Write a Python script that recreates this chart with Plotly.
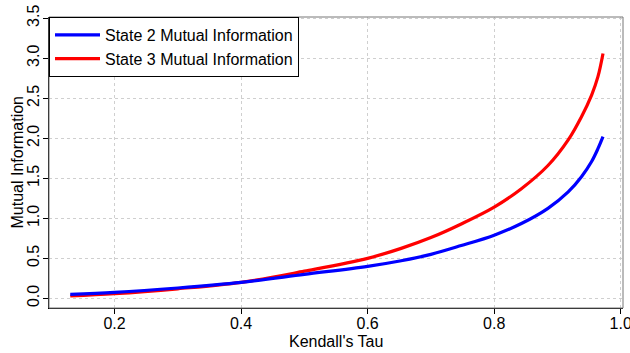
import plotly.graph_objects as go

# Data
tau = [0.13, 0.20, 0.30, 0.40, 0.50, 0.60, 0.653, 0.70, 0.748, 0.80, 0.843, 0.885, 0.917, 0.938, 0.954, 0.964, 0.972]
state3_mi = [0.03, 0.058, 0.12, 0.20, 0.34, 0.50, 0.625, 0.76, 0.93, 1.14, 1.37, 1.66, 1.98, 2.27, 2.54, 2.77, 3.06]
state2_mi = [0.05, 0.075, 0.13, 0.20, 0.30, 0.40, 0.47, 0.55, 0.66, 0.79, 0.935, 1.125, 1.33, 1.52, 1.71, 1.87, 2.02]

x_ticks = [0.2, 0.4, 0.6, 0.8, 1.0]
y_ticks = [0.0, 0.5, 1.0, 1.5, 2.0, 2.5, 3.0, 3.5]

FONT = "Liberation Sans, Arial, sans-serif"

fig = go.Figure()
fig.add_trace(go.Scatter(
    x=tau, y=state3_mi, mode="lines", name="State 3 Mutual Information",
    line=dict(color="#FF0000", width=3.2, shape="spline", smoothing=1.0),
    legendrank=2,
))
fig.add_trace(go.Scatter(
    x=tau, y=state2_mi, mode="lines", name="State 2 Mutual Information",
    line=dict(color="#0000FF", width=3.2, shape="spline", smoothing=1.0),
    legendrank=1,
))

grid = dict(showgrid=True, gridcolor="#cfcfcf", gridwidth=1, griddash="dot", zeroline=False)

fig.update_layout(
    width=630, height=353,
    margin=dict(l=49, r=7, t=17, b=45, autoexpand=False),
    paper_bgcolor="white", plot_bgcolor="white",
    font=dict(family=FONT, size=16, color="black"),
    showlegend=True,
    legend=dict(
        x=0, y=1, xanchor="left", yanchor="top",
        bgcolor="white", bordercolor="black", borderwidth=1,
        font=dict(family=FONT, size=16, color="black"),
        traceorder="normal", itemwidth=45,
    ),
    xaxis=dict(
        range=[0.0964, 1.0036], tickvals=x_ticks, ticktext=[f"{v:.1f}" for v in x_ticks],
        ticks="outside", ticklen=5, tickcolor="black", tickwidth=1,
        ticklabeloverflow="allow", ticklabelstandoff=-4,
        showline=True, linecolor="black", linewidth=1, mirror=False,
        automargin=False,
        **grid,
    ),
    yaxis=dict(
        range=[-0.12, 3.515], tickvals=y_ticks, ticktext=[f"{v:.1f}" for v in y_ticks],
        tickangle=-90,
        ticks="outside", ticklen=5, tickcolor="black", tickwidth=1,
        ticklabeloverflow="allow", ticklabelstandoff=-2,
        showline=True, linecolor="black", linewidth=1, mirror=False,
        automargin=False,
        **grid,
    ),
    annotations=[
        dict(text="Kendall's Tau", xref="paper", yref="paper", x=0.5, y=0,
             yshift=-33, xanchor="center", yanchor="middle", showarrow=False,
             font=dict(family=FONT, size=16, color="black")),
        dict(text="Mutual Information", xref="paper", yref="paper", x=0, y=0.5,
             xshift=-32, xanchor="center", yanchor="middle", textangle=-90, showarrow=False,
             font=dict(family=FONT, size=16, color="black")),
    ],
    shapes=[dict(type="rect", xref="paper", yref="paper", x0=0, x1=1, y0=0, y1=1,
                 line=dict(color="#777777", width=1), fillcolor="rgba(0,0,0,0)", layer="above")],
)

fig.write_html("out.html")
